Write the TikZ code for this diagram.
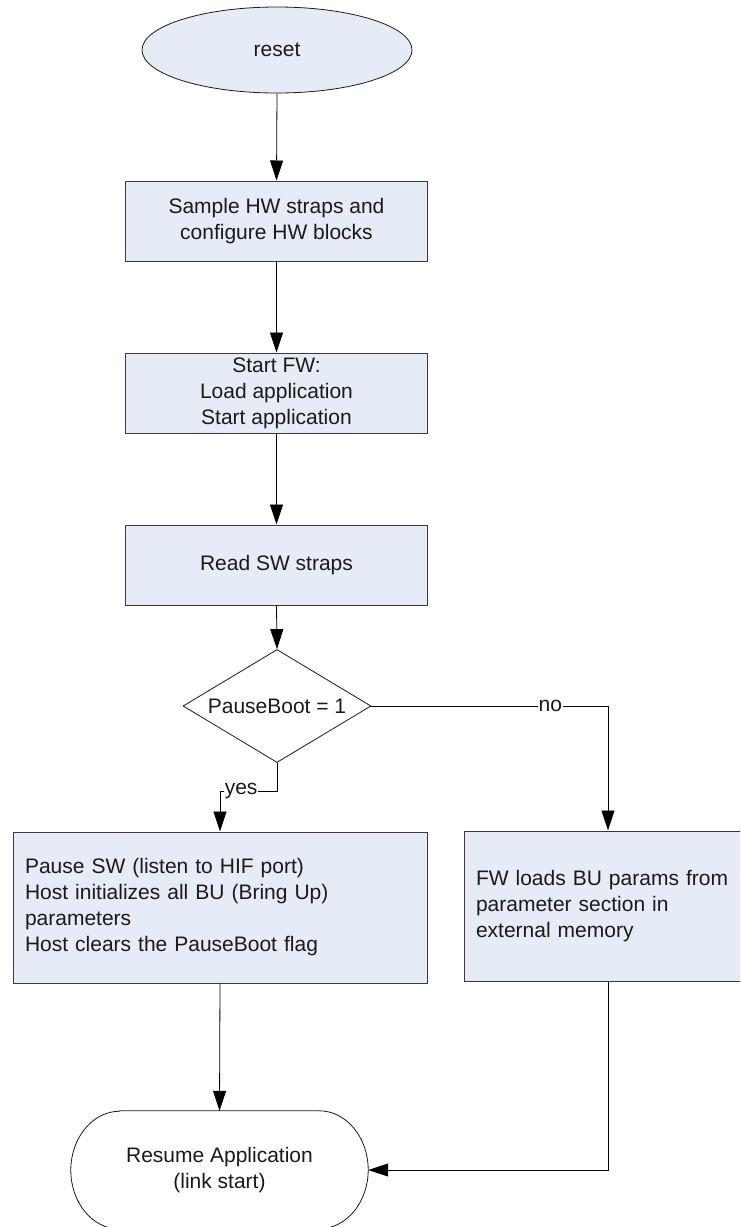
\documentclass[tikz,border=0pt]{standalone}
\usepackage{fontspec}
\setmainfont{Liberation Sans}
\usetikzlibrary{arrows.meta,shapes.geometric}
\definecolor{boxfill}{HTML}{E6ECF6}
\definecolor{boxline}{HTML}{3A3A3A}
\definecolor{ink}{HTML}{1A1A1A}
\begin{document}
\begin{tikzpicture}[x=1pt,y=-1pt,
  every node/.style={font=\fontsize{21}{26}\selectfont, text=ink},
  proc/.style={draw=boxline, fill=boxfill, line width=1pt,
    minimum width=302pt, minimum height=80pt, inner sep=2pt, align=center},
  wideproc/.style={draw=boxline, fill=boxfill, line width=1pt,
    inner xsep=12pt, inner ysep=2pt, align=left},
  startshape/.style={ellipse, draw=ink, fill=boxfill, line width=0.8pt,
    minimum width=270pt, minimum height=86pt, inner sep=0pt},
  decision/.style={diamond, draw=ink, fill=white, line width=0.8pt,
    aspect=1.66, minimum width=188pt, minimum height=113pt, inner sep=0pt},
  arr/.style={draw=black, line width=0.8pt, -{Triangle[length=20pt,width=13pt]}},
  lab/.style={fill=white, inner sep=1pt}
]
\useasboundingbox (0,0) rectangle (740,1227);
\clip (0,0) rectangle (740,1227);

% process chain
\node[startshape] (reset) at (277,50) {reset};
\node[proc] (sample) at (276.5,221) {Sample HW straps and\\configure HW blocks};
\node[proc] (startfw) at (276.5,393) {Start FW:\\Load application\\Start application};
\node[proc] (readsw) at (276.5,565) {Read SW straps};
\node[decision] (pause) at (277,706) {PauseBoot = 1};

% branch boxes
\node[wideproc, text width=390pt, minimum width=414pt, minimum height=151pt]
  (hostinit) at (220,907.5)
  {Pause SW (listen to HIF port)\\Host initializes all BU (Bring Up)\\parameters\\Host clears the PauseBoot flag};
\node[wideproc, text width=257pt, minimum width=281pt, minimum height=150pt]
  (fwload) at (604.5,906)
  {FW loads BU params from\\parameter section in\\external memory};

% terminator with elliptical ends
\node[minimum width=297pt, minimum height=118pt, inner sep=0pt]
  (resume) at (219.5,1170) {};
\draw[ink, line width=0.8pt, fill=white]
  ([xshift=49pt]resume.north west) -- ([xshift=-49pt]resume.north east)
  arc[start angle=90, end angle=-90, x radius=49pt, y radius=59pt]
  -- ([xshift=49pt]resume.south west)
  arc[start angle=270, end angle=90, x radius=49pt, y radius=59pt] -- cycle;
\node[align=center] (resumetext) at (resume.center) {Resume Application\\(link start)};

% routing points
\coordinate (yesrow) at (0,791);
\coordinate (nocol) at (608,0);

% connectors
\draw[arr] (reset.south) -- (sample.north);
\draw[arr] (sample.south) -- (startfw.north);
\draw[arr] (startfw.south) -- (readsw.north);
\draw[arr] (readsw.south) -- (pause.north);

\draw[arr] (pause.south) -- (pause.south |- yesrow)
  -- node[lab, pos=0.63] {yes} (hostinit.north |- yesrow) -- (hostinit.north);
\draw[arr] (pause.east) -- node[lab, pos=0.756] {no} (nocol |- pause.east)
  -- (nocol |- fwload.north);

\draw[arr] (hostinit.south) -- (resume.north);
\draw[arr] (nocol |- fwload.south) -- (nocol |- resume.east) -- (resume.east);
\end{tikzpicture}
\end{document}
